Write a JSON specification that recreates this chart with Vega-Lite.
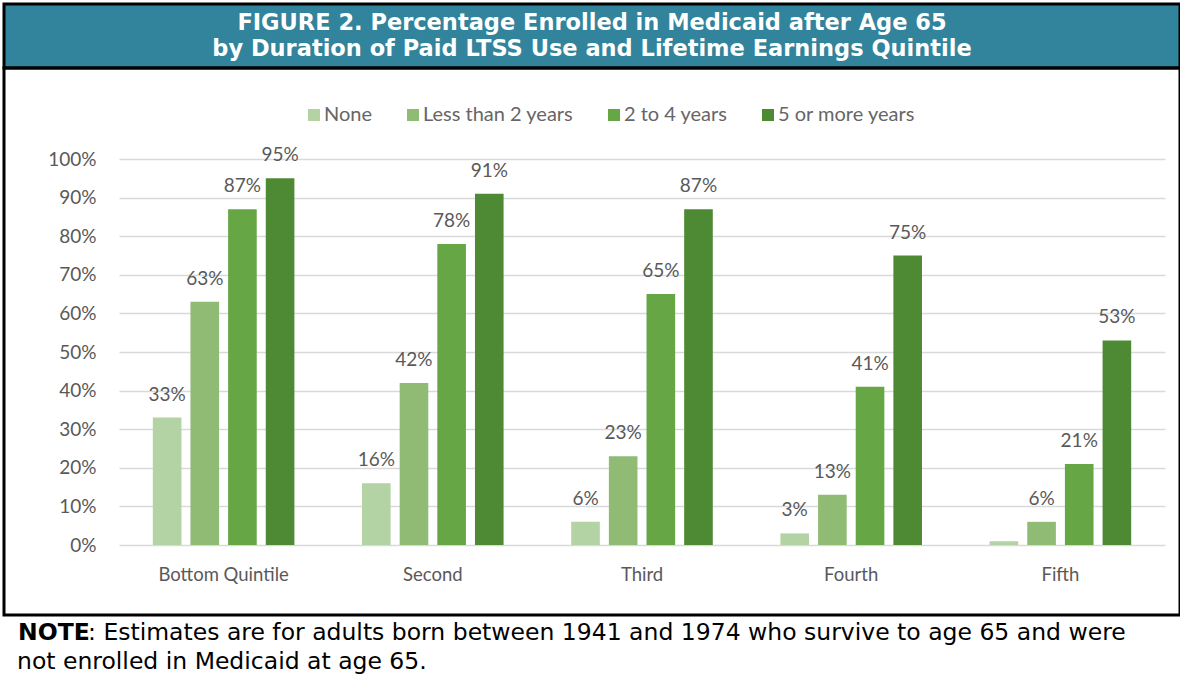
{
  "$schema": "https://vega.github.io/schema/vega-lite/v6.json",
  "background": "white",
  "padding": {"left": 2, "right": 2, "top": 2, "bottom": 0},
  "spacing": 0,
  "bounds": "flush",
  "config": {"view": {"stroke": "black", "strokeWidth": 3}, "concat": {"spacing": 0}},
  "vconcat": [
    {
      "width": 1176,
      "height": 64,
      "view": {"fill": "#31849b", "stroke": "black", "strokeWidth": 3},
      "data": {"values": [
        {"line": 1, "text": "FIGURE 2. Percentage Enrolled in Medicaid after Age 65"},
        {"line": 2, "text": "by Duration of Paid LTSS Use and Lifetime Earnings Quintile"}
      ]},
      "mark": {"type": "text", "font": "DejaVu Sans", "fontWeight": "bold", "fontSize": 22.5, "color": "white", "baseline": "middle", "align": "center"},
      "encoding": {
        "y": {"field": "line", "type": "ordinal", "axis": null, "scale": {"range": [6, 58]}},
        "text": {"field": "text"}
      }
    },
    {
      "width": 1176,
      "height": 547,
      "view": {"stroke": "black", "strokeWidth": 3},
      "data": {"values": [
        {"quintile": "Bottom Quintile", "duration": "None", "value": 0.33},
        {"quintile": "Bottom Quintile", "duration": "Less than 2 years", "value": 0.63},
        {"quintile": "Bottom Quintile", "duration": "2 to 4 years", "value": 0.87},
        {"quintile": "Bottom Quintile", "duration": "5 or more years", "value": 0.95},
        {"quintile": "Second", "duration": "None", "value": 0.16},
        {"quintile": "Second", "duration": "Less than 2 years", "value": 0.42},
        {"quintile": "Second", "duration": "2 to 4 years", "value": 0.78},
        {"quintile": "Second", "duration": "5 or more years", "value": 0.91},
        {"quintile": "Third", "duration": "None", "value": 0.06},
        {"quintile": "Third", "duration": "Less than 2 years", "value": 0.23},
        {"quintile": "Third", "duration": "2 to 4 years", "value": 0.65},
        {"quintile": "Third", "duration": "5 or more years", "value": 0.87},
        {"quintile": "Fourth", "duration": "None", "value": 0.03},
        {"quintile": "Fourth", "duration": "Less than 2 years", "value": 0.13},
        {"quintile": "Fourth", "duration": "2 to 4 years", "value": 0.41},
        {"quintile": "Fourth", "duration": "5 or more years", "value": 0.75},
        {"quintile": "Fifth", "duration": "None", "value": 0.01},
        {"quintile": "Fifth", "duration": "Less than 2 years", "value": 0.06},
        {"quintile": "Fifth", "duration": "2 to 4 years", "value": 0.21},
        {"quintile": "Fifth", "duration": "5 or more years", "value": 0.53}
      ]},
      "encoding": {
        "x": {
          "field": "quintile", "type": "nominal",
          "sort": ["Bottom Quintile", "Second", "Third", "Fourth", "Fifth"],
          "scale": {"range": [115, 1161], "paddingInner": 0.28, "paddingOuter": 0.14},
          "axis": {"title": null, "domain": false, "ticks": false, "grid": false, "labelAngle": 0, "labelFont": "Lato", "labelFontSize": 18.5, "labelColor": "#595959", "labelPadding": 4, "offset": -54}
        },
        "y": {
          "field": "value", "type": "quantitative",
          "scale": {"domain": [0, 1], "range": [477, 91], "nice": false, "zero": true},
          "axis": {"title": null, "domain": false, "ticks": false, "grid": true, "gridColor": "#d9d9d9", "gridWidth": 1.5, "values": [0, 0.1, 0.2, 0.3, 0.4, 0.5, 0.6, 0.7, 0.8, 0.9, 1], "format": ".0%", "labelFont": "Lato", "labelFontSize": 19, "labelColor": "#595959", "offset": -100, "labelPadding": 8}
        },
        "xOffset": {"field": "duration", "type": "nominal", "sort": ["None", "Less than 2 years", "2 to 4 years", "5 or more years"], "scale": {"paddingInner": 0.24, "paddingOuter": 0.12}}
      },
      "layer": [
        {
          "mark": {"type": "bar"},
          "encoding": {
            "color": {
              "field": "duration", "type": "nominal",
              "sort": ["None", "Less than 2 years", "2 to 4 years", "5 or more years"],
              "scale": {"domain": ["None", "Less than 2 years", "2 to 4 years", "5 or more years"], "range": ["#b4d3a4", "#8fbb74", "#66a644", "#4e8a33"]},
              "legend": {"orient": "none", "legendX": 300, "legendY": 101, "direction": "horizontal", "title": null, "symbolType": "square", "symbolSize": 144, "symbolStrokeWidth": 0, "labelFont": "Lato", "labelFontSize": 20, "labelColor": "#666666", "columnPadding": 30, "labelOffset": 0, "padding": 0}
            }
          }
        },
        {
          "transform": [{"filter": "datum.value >= 0.02"}],
          "mark": {"type": "text", "font": "Lato", "fontSize": 19, "color": "#595959", "baseline": "middle", "dy": -23},
          "encoding": {"text": {"field": "value", "type": "quantitative", "format": ".0%"}}
        }
      ]
    },
    {
      "width": 1176,
      "height": 64,
      "view": {"stroke": null},
      "data": {"values": [
        {"line": 1, "part": "bold", "text": "NOTE"},
        {"line": 1, "part": "rest", "text": ":  Estimates are for adults born between 1941 and 1974 who survive to age 65 and were"},
        {"line": 2, "part": "line2", "text": "not enrolled in Medicaid at age 65."}
      ]},
      "encoding": {
        "y": {"field": "line", "type": "ordinal", "axis": null, "scale": {"range": [3.5, 61.5]}},
        "text": {"field": "text"}
      },
      "layer": [
        {
          "transform": [{"filter": "datum.part == 'bold'"}],
          "mark": {"type": "text", "align": "left", "baseline": "middle", "font": "DejaVu Sans", "fontSize": 23.5, "fontWeight": "bold", "color": "black", "x": 14}
        },
        {
          "transform": [{"filter": "datum.part == 'rest'"}],
          "mark": {"type": "text", "align": "left", "baseline": "middle", "font": "DejaVu Sans", "fontSize": 23.5, "color": "black", "x": 14, "dx": 70}
        },
        {
          "transform": [{"filter": "datum.part == 'line2'"}],
          "mark": {"type": "text", "align": "left", "baseline": "middle", "font": "DejaVu Sans", "fontSize": 23.5, "color": "black", "x": 13}
        }
      ]
    }
  ]
}
